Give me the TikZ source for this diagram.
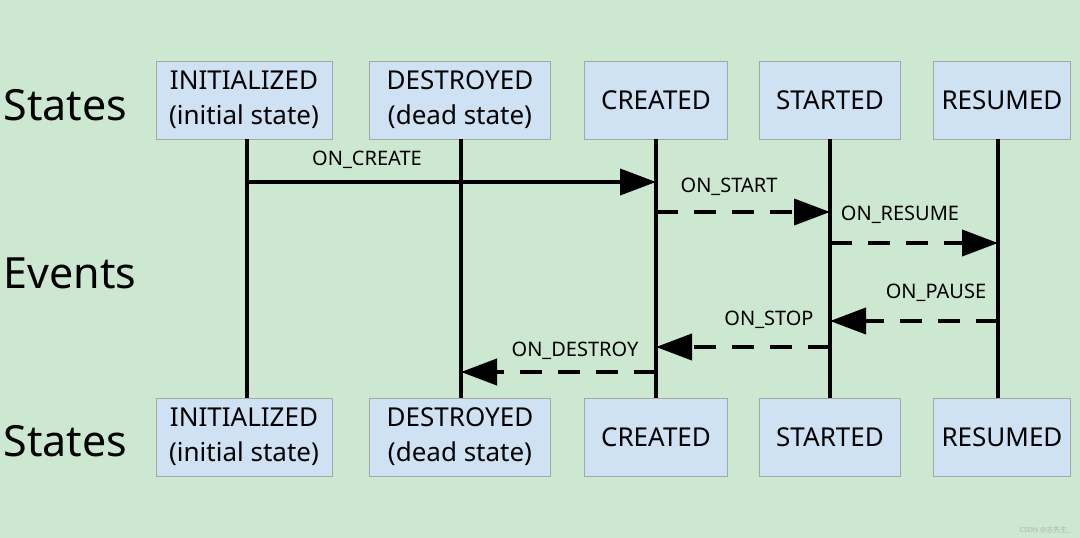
\documentclass[tikz,border=0pt]{standalone}
\usepackage{fontspec}
\setmainfont{Noto Sans}
\newfontfamily\cjk{Noto Sans CJK SC}
\usetikzlibrary{arrows.meta}
\definecolor{bgcol}{HTML}{CCE8D1}
\definecolor{boxcol}{HTML}{CFE2F3}
\begin{document}
\begin{tikzpicture}[
        x=1pt, y=-1pt,
        state/.style={
            rectangle,
            draw=gray!70,
            fill=boxcol,
            minimum height=78pt,
            align=center,
            font=\fontsize{26}{35}\selectfont,
            inner sep=1pt
        },
        life/.style={line width=4pt},
        event/.style={line width=4pt, -{Triangle[length=36pt,width=26pt]}},
        dashed event/.style={event, dash pattern=on 22pt off 16pt},
        elabel/.style={font=\fontsize{20}{24}\selectfont},
        rowlabel/.style={font=\fontsize{43}{50}\selectfont, anchor=west}
    ]

    % background and frame
    \fill[bgcol] (0,0) rectangle (1080,538);

    % row labels
    \node[rowlabel] (s1) at (0,105) {States};
    \node[rowlabel] (ev) at (0,273) {Events};
    \node[rowlabel] (s2) at (0,441) {States};

    % (name, x, width, text)
    \def\statedata{{ini/244/176/INITIALIZED\\(initial state)},
        {des/460/181/DESTROYED\\(dead state)},
        {cre/656/143/CREATED},
        {sta/830/141/STARTED},
        {res/1002/137/RESUMED}}

    % top and bottom states
    \foreach \n/\x/\w/\t in \statedata {
        \node[state, minimum width=\w pt] (\n top) at (\x,100) {\t};
        \node[state, minimum width=\w pt] (\n bot) at (\x,437) {\t};
    }

    % lifelines
    \draw[life] ([xshift=3pt]initop.south) -- ([xshift=3pt]inibot.north);
    \draw[life] ([xshift=1pt]destop.south) -- ([xshift=1pt]desbot.north);
    \draw[life] (cretop.south) -- (crebot.north);
    \draw[life] (statop.south) -- (stabot.north);
    \draw[life] ([xshift=-4pt]restop.south) -- ([xshift=-4pt]resbot.north);

    % event points on lifelines
    \coordinate (a1) at (247,182);  \coordinate (a2) at (656,182);
    \coordinate (b1) at (656,212);  \coordinate (b2) at (830,212);
    \coordinate (c1) at (830,243);  \coordinate (c2) at (998,243);
    \coordinate (d1) at (998,321);  \coordinate (d2) at (830,321);
    \coordinate (e1) at (830,347);  \coordinate (e2) at (656,347);
    \coordinate (f1) at (656,372);  \coordinate (f2) at (461,372);

    % --- events ---
    \draw[event] (a1) -- (a2);
    \draw[dashed event] (b1) -- (b2);
    \draw[dashed event] (c1) -- (c2);
    \draw[dashed event] (d1) -- (d2);
    \draw[dashed event] (e1) -- (e2);
    \draw[dashed event] (f1) -- (f2);

    \node[elabel] (lcreate) at (367,160) {ON\_CREATE};
    \node[elabel] (lstart) at (729,187) {ON\_START};
    \node[elabel] (lresume) at (900,215) {ON\_RESUME};
    \node[elabel] (lpause) at (936,293) {ON\_PAUSE};
    \node[elabel] (lstop) at (769,320) {ON\_STOP};
    \node[elabel] (ldestroy) at (575,351) {ON\_DESTROY};

    % watermark
    \node[font=\fontsize{7}{8}\selectfont, text=gray!60, anchor=east] (mark) at (1074,530) {CSDN @{\cjk 志先生}\_};
\end{tikzpicture}
\end{document}
